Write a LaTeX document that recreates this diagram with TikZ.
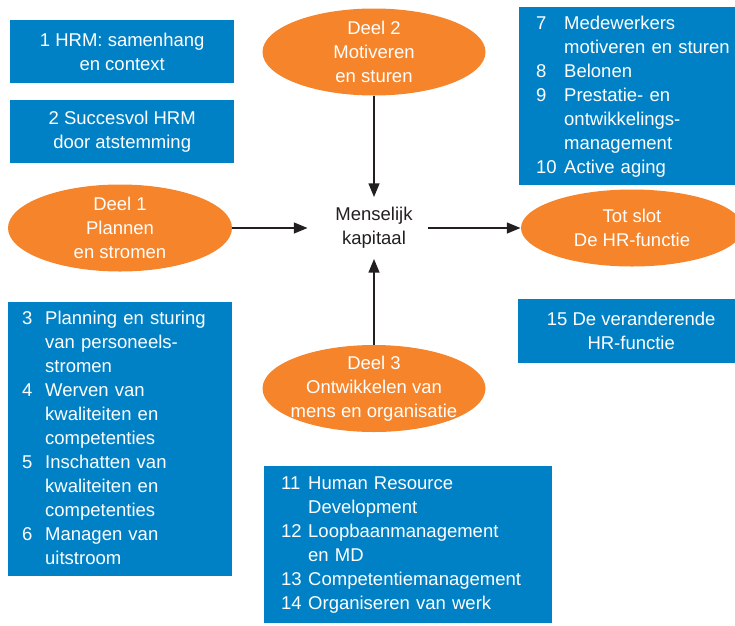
\documentclass[tikz,border=0pt]{standalone}
\usepackage{fontspec}
\setmainfont{Liberation Sans}
\usetikzlibrary{shapes.geometric,arrows.meta}
\definecolor{hrblue}{HTML}{0081C6}
\definecolor{hrorange}{HTML}{F5842A}
\definecolor{ink}{HTML}{231F20}
\begin{document}
\begin{tikzpicture}[x=1pt,y=-1pt,
  txt/.style={font=\fontsize{18.5}{24}\selectfont},
  bluebox/.style={txt, rectangle, fill=hrblue, text=white, inner sep=0pt, anchor=north west, align=center},
  listbox/.style={bluebox, align=left},
  deel/.style={ellipse, fill=hrorange, inner sep=0pt},
  deeltxt/.style={txt, text=white, align=center, inner sep=0pt},
  conn/.style={draw=ink, line width=2.8pt, -{Triangle[length=14pt,width=10.5pt]}}]
\useasboundingbox (0,0) rectangle (735,625);
\clip (0,0) rectangle (735,625);

% plain blue boxes
\node[bluebox, minimum width=224pt, minimum height=63pt] (b1) at (10,20) {1 HRM: samenhang\\en context};
\node[bluebox, minimum width=224pt, minimum height=63pt] (b2) at (10,100) {2 Succesvol HRM\\door atstemming};
\node[bluebox, minimum width=226pt, minimum height=64pt] (b15) at (518,299) {15 De veranderende\\HR-functie};

% list boxes
\node[listbox, text width=196pt, inner xsep=14pt, minimum height=274pt] (b36) at (8,302) {%
\begin{tabular}{@{}p{23pt}@{}l@{}}
3 & Planning en sturing\\
  & van personeels-\\
  & stromen\\
4 & Werven van\\
  & kwaliteiten en\\
  & competenties\\
5 & Inschatten van\\
  & kwaliteiten en\\
  & competenties\\
6 & Managen van\\
  & uitstroom
\end{tabular}};

\node[listbox, text width=200pt, inner xsep=17pt, minimum height=178pt] (b710) at (519,7) {%
\begin{tabular}{@{}p{28pt}@{}l@{}}
7  & Medewerkers\\
   & motiveren en sturen\\
8  & Belonen\\
9  & Prestatie- en\\
   & ontwikkelings-\\
   & management\\
10 & Active aging
\end{tabular}};

\node[listbox, text width=254pt, inner xsep=17pt, minimum height=157pt] (b1114) at (264,466) {%
\begin{tabular}{@{}p{27pt}@{}l@{}}
11 & Human Resource\\
   & Development\\
12 & Loopbaanmanagement\\
   & en MD\\
13 & Competentiemanagement\\
14 & Organiseren van werk
\end{tabular}};

% ellipses
\node[deel, minimum width=223pt, minimum height=87pt,
  label={[deeltxt]center:{Deel 2\\Motiveren\\en sturen}}] (d2) at (374,52) {};
\node[deel, minimum width=224pt, minimum height=87pt,
  label={[deeltxt]center:{Deel 1\\Plannen\\en stromen}}] (d1) at (120,228) {};
\node[deel, minimum width=222pt, minimum height=77pt,
  label={[deeltxt]center:{Tot slot\\De HR-functie}}] (ts) at (632,228) {};
\node[deel, minimum width=223pt, minimum height=87pt,
  label={[deeltxt]center:{Deel 3\\Ontwikkelen van\\mens en organisatie}}] (d3) at (374,388.5) {};

% centre
\node[txt, text=ink, align=center, inner sep=0pt, minimum width=132pt, minimum height=61pt] (mk) at (374,228) {Menselijk\\kapitaal};

% connectors
\draw[conn] (d1.east) -- (mk.west);
\draw[conn] ([xshift=-12pt]mk.east) -- (ts.west);
\draw[conn] (d2.south) -- (mk.north);
\draw[conn] (d3.north) -- (mk.south);
\end{tikzpicture}
\end{document}
